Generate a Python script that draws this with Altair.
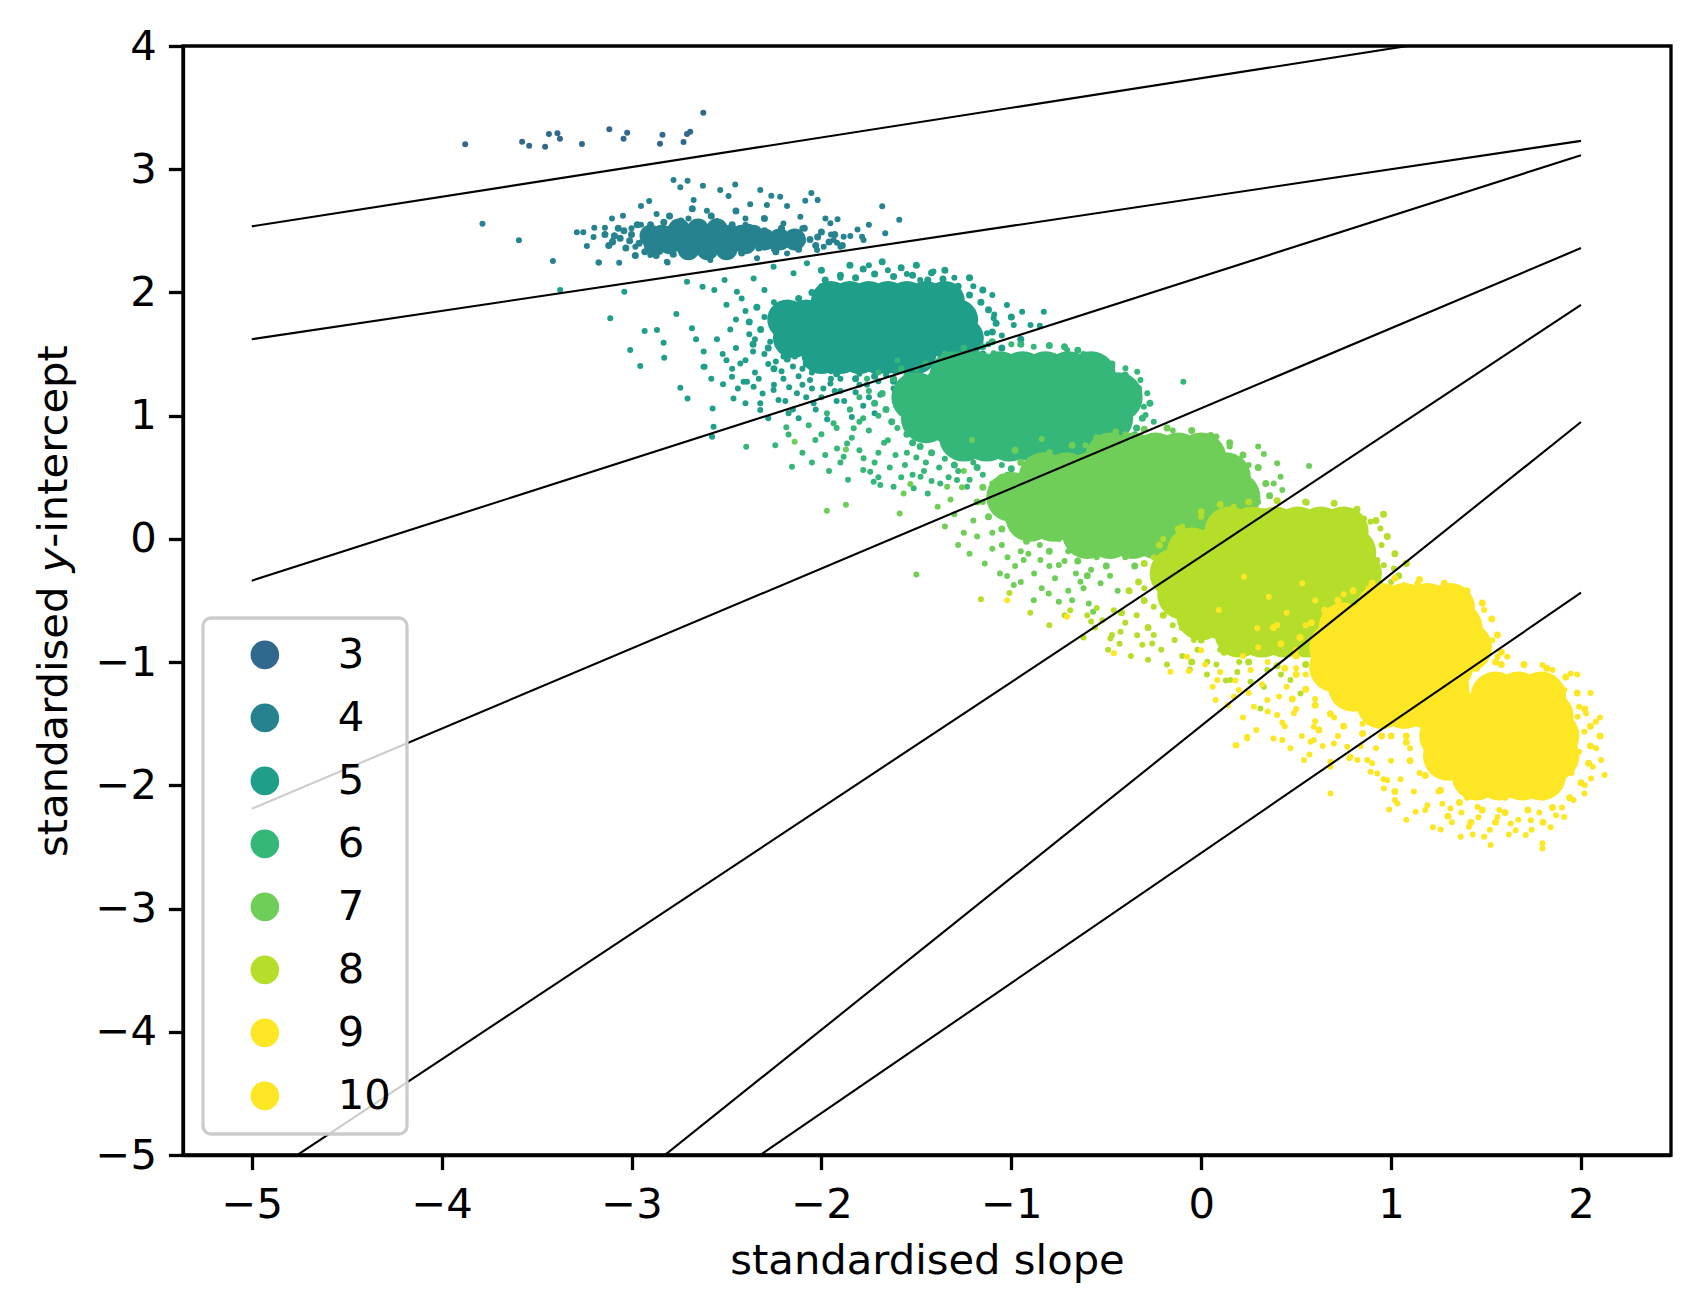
import altair as alt
import pandas as pd

FONT = "DejaVu Sans"

labels = ["3", "4", "5", "6", "7", "8", "9", "10"]
colors = ["#31688e", "#26828e", "#1f9e89", "#35b779", "#6ece58", "#b5de2b", "#fde725", "#fde725"]

x_ticks = [-5, -4, -3, -2, -1, 0, 1, 2]
y_ticks = [-5, -4, -3, -2, -1, 0, 1, 2, 3, 4]
x_domain = [-5.362, 2.474]
y_domain = [-5, 4]

# straight lines (x from -5 to 2)
line_x0 = [-5, -5, -5, -5, -5, -5, -5]
line_x1 = [2, 2, 2, 2, 2, 2, 2]
line_y0 = [2.536, 1.62, -0.339, -2.19, -5.245, -7.683, -7.827]
line_y1 = [4.22, 3.23, 3.114, 2.36, 1.90, 0.949, -0.437]

# ---- points: dense cores (rows of y with x positions),
# ---- fringe points round each core, and sparse outlying points ----
dots_3 = [(-3.876, 3.202), (-3.576, 3.223), (-3.539, 3.191), (-3.455, 3.183), (-3.435, 3.286),
          (-3.390, 3.291), (-3.377, 3.248), (-3.261, 3.205), (-3.117, 3.324), (-3.042, 3.248),
          (-3.023, 3.296), (-2.850, 3.207), (-2.837, 3.280), (-2.726, 3.221), (-2.708, 3.286),
          (-2.691, 3.305), (-2.622, 3.459)]

core_4 = [(2.46, [-2.90, -2.84, -2.78, -2.72, -2.66, -2.60, -2.54, -2.48, -2.42, -2.36]),
          (2.40, [-2.88, -2.80, -2.72, -2.64, -2.56, -2.48, -2.40]),
          (2.43, [-2.30, -2.22, -2.14]),
          (2.51, [-2.75, -2.65, -2.55]),
          (2.35, [-2.70, -2.60, -2.50])]
fringe_4 = [(-3.14, 2.47), (-3.10, 2.41), (-3.07, 2.52), (-3.03, 2.36), (-3.00, 2.47), (-2.97, 2.55),
            (-2.96, 2.40), (-2.93, 2.33), (-2.90, 2.55), (-2.87, 2.30), (-2.83, 2.57), (-2.78, 2.31),
            (-2.74, 2.58), (-2.69, 2.30), (-2.65, 2.56), (-2.60, 2.30), (-2.56, 2.57), (-2.51, 2.31),
            (-2.47, 2.55), (-2.42, 2.32), (-2.38, 2.53), (-2.33, 2.36), (-2.30, 2.50), (-2.27, 2.44),
            (-2.24, 2.33), (-2.21, 2.52), (-2.18, 2.40), (-2.15, 2.47), (-2.12, 2.35), (-2.09, 2.52),
            (-2.06, 2.43), (-2.03, 2.38), (-2.00, 2.49), (-1.96, 2.41), (-1.93, 2.47), (-1.89, 2.38),
            (-2.33, 2.43), (-2.26, 2.38), (-2.20, 2.46), (-2.10, 2.42), (-2.02, 2.45), (-3.06, 2.44),
            (-3.12, 2.38), (-2.98, 2.30), (-2.58, 2.62), (-2.30, 2.60), (-2.80, 2.62), (-2.45, 2.66),
            (-2.68, 2.68), (-3.04, 2.50), (-3.09, 2.46), (-3.01, 2.42)]
dots_4 = [(-3.785, 2.558), (-3.593, 2.423), (-3.414, 2.255), (-3.288, 2.488), (-3.254, 2.488),
          (-3.235, 2.377), (-3.196, 2.525), (-3.172, 2.244), (-3.140, 2.525), (-3.103, 2.601),
          (-3.065, 2.241), (-3.045, 2.623), (-2.950, 2.701), (-2.907, 2.742), (-2.868, 2.636),
          (-2.810, 2.244), (-2.779, 2.912), (-2.705, 2.907), (-2.743, 2.853), (-2.673, 2.750),
          (-2.624, 2.866), (-2.603, 2.663), (-2.533, 2.831), (-2.454, 2.877), (-2.489, 2.782),
          (-2.375, 2.715), (-2.322, 2.831), (-2.264, 2.785), (-2.287, 2.709), (-2.217, 2.777),
          (-2.181, 2.701), (-2.085, 2.744), (-2.053, 2.807), (-2.020, 2.750), (-2.111, 2.614),
          (-1.979, 2.601), (-1.915, 2.593), (-1.953, 2.561), (-1.883, 2.452), (-1.918, 2.403),
          (-1.988, 2.371), (-2.023, 2.344), (-2.181, 2.317), (-2.339, 2.277), (-2.585, 2.263),
          (-2.708, 2.290), (-2.901, 2.304), (-2.980, 2.371), (-1.664, 2.480), (-1.786, 2.452),
          (-1.778, 2.425), (-1.848, 2.458), (-1.936, 2.425), (-2.814, 2.250), (-3.174, 2.244),
          (-1.680, 2.700), (-1.590, 2.590), (-1.810, 2.510), (-1.750, 2.550), (-2.550, 2.580),
          (-2.400, 2.600), (-2.700, 2.600), (-2.200, 2.560), (-3.000, 2.520), (-3.100, 2.420),
          (-3.200, 2.450), (-2.950, 2.550), (-2.850, 2.330), (-2.600, 2.320), (-2.400, 2.550),
          (-2.250, 2.350), (-2.100, 2.520), (-1.950, 2.470), (-1.900, 2.370)]

core_5 = [(1.93, [-1.95, -1.85, -1.75, -1.65, -1.55, -1.45, -1.35]),
          (1.78, [-2.18, -2.08, -1.98, -1.88, -1.78, -1.68, -1.58, -1.48, -1.38, -1.28]),
          (1.63, [-2.15, -2.05, -1.95, -1.85, -1.75, -1.65, -1.55, -1.45, -1.35, -1.25]),
          (1.50, [-2.00, -1.90, -1.80, -1.70, -1.60, -1.50])]
fringe_5 = [(-2.05, 2.00), (-1.98, 2.10), (-1.90, 2.14), (-1.82, 2.12), (-1.72, 2.15), (-1.62, 2.13),
            (-1.52, 2.14), (-1.44, 2.10), (-1.36, 2.11), (-1.28, 2.05), (-1.22, 1.98), (-1.16, 1.92),
            (-2.12, 1.95), (-2.20, 1.90), (-1.12, 1.86), (-1.08, 1.75), (-1.10, 1.68), (-1.05, 1.55),
            (-1.15, 1.50), (-1.00, 1.80), (-0.95, 1.62), (-1.25, 1.45), (-1.32, 1.36), (-1.42, 1.32),
            (-1.55, 1.30), (-1.62, 1.28), (-1.72, 1.32), (-1.82, 1.30), (-1.92, 1.34), (-2.08, 1.42),
            (-2.18, 1.46), (-2.25, 1.38), (-2.32, 1.70), (-2.34, 1.88), (-2.38, 1.76), (-2.28, 1.55),
            (-2.36, 1.58), (-2.00, 2.18), (-1.85, 2.22), (-1.68, 2.25), (-1.50, 2.22), (-1.35, 2.18),
            (-1.22, 2.12), (-1.15, 2.02), (-1.78, 2.19), (-1.58, 2.20), (-1.42, 2.16), (-1.93, 2.05),
            (-1.30, 1.98)]
tail_5 = [(-2.52, 1.50), (-2.47, 1.38), (-2.44, 1.22), (-2.40, 1.10), (-2.36, 1.52), (-2.33, 1.30),
          (-2.31, 1.18), (-2.28, 0.98), (-2.27, 1.60), (-2.24, 1.44), (-2.21, 1.36), (-2.19, 1.12),
          (-2.17, 1.23), (-2.14, 1.48), (-2.12, 0.98), (-2.10, 1.38), (-2.08, 1.15), (-2.06, 1.29),
          (-2.03, 1.05), (-2.01, 1.44), (-1.99, 1.22), (-1.97, 0.97), (-1.95, 1.36), (-1.93, 1.20),
          (-1.90, 1.30), (-1.88, 1.12), (-1.86, 1.42), (-1.84, 0.99), (-1.82, 1.19), (-1.80, 1.34),
          (-1.78, 1.08), (-1.76, 1.25), (-1.74, 1.40), (-1.72, 1.02), (-1.69, 1.17), (-1.66, 1.33),
          (-1.62, 1.22), (-1.58, 1.38), (-1.55, 1.12), (-1.52, 1.28), (-2.58, 1.30), (-2.62, 1.52),
          (-2.66, 1.62), (-2.38, 1.66), (-2.45, 1.78), (-2.50, 1.90)]
dots_5 = [(-3.376, 2.020), (-3.112, 1.790), (-3.038, 2.006), (-3.007, 1.532), (-2.954, 1.403),
          (-2.931, 1.687), (-2.866, 1.695), (-2.831, 1.592), (-2.828, 1.470), (-2.764, 1.825),
          (-2.743, 1.227), (-2.705, 1.140), (-2.682, 1.709), (-2.615, 1.397), (-2.573, 1.059),
          (-2.518, 1.254), (-2.471, 1.316), (-2.708, 2.087), (-2.626, 2.046), (-2.564, 2.020),
          (-2.510, 2.101), (-2.445, 2.006), (-2.357, 2.114), (-2.252, 2.209), (-2.147, 2.155),
          (-2.076, 2.236), (-2.427, 1.424), (-2.410, 1.275), (-2.357, 1.235), (-2.322, 1.100),
          (-2.252, 1.208), (-2.226, 1.127), (-2.129, 1.181), (-2.041, 1.100), (-1.953, 1.262),
          (-2.621, 1.397), (-2.568, 0.910), (-2.576, 0.829), (-2.463, 1.140), (-2.392, 1.275),
          (-2.322, 1.045), (-2.173, 1.019), (-1.023, 1.898), (-0.943, 1.843), (-0.829, 1.843),
          (-0.899, 1.735), (-0.987, 1.735), (-1.093, 1.790), (-1.128, 1.668), (-0.850, 1.730),
          (-1.090, 1.820), (-1.750, 2.220), (-1.410, 2.170), (-1.550, 2.150), (-1.300, 2.120),
          (-1.200, 2.050), (-1.900, 2.120), (-2.000, 2.050), (-1.650, 2.180), (-1.480, 2.100),
          (-1.100, 1.980), (-2.300, 1.500), (-2.350, 1.620), (-2.300, 1.800), (-2.250, 1.920),
          (-2.150, 1.400), (-2.050, 1.350), (-1.950, 1.300), (-1.850, 1.380), (-1.650, 1.360),
          (-1.500, 1.380), (-1.350, 1.420), (-1.200, 1.500), (-1.120, 1.580), (-1.050, 1.650),
          (-2.200, 1.300), (-2.100, 1.250), (-1.900, 1.200), (-2.000, 1.150), (-1.800, 1.250),
          (-2.450, 1.550), (-2.400, 1.450), (-2.350, 1.350), (-2.280, 1.420), (-2.200, 1.480),
          (-2.120, 1.320), (-2.050, 1.220), (-1.980, 1.400), (-1.920, 1.120), (-1.850, 1.050),
          (-1.750, 1.150), (-1.700, 1.280), (-2.250, 1.250), (-2.150, 1.050), (-2.500, 1.450),
          (-2.550, 1.620), (-2.480, 1.700), (-2.400, 1.850), (-2.420, 1.950), (-2.300, 2.020)]

core_6 = [(1.32, [-1.30, -1.18, -1.06, -0.94, -0.82, -0.70, -0.58]),
          (1.15, [-1.50, -1.38, -1.26, -1.14, -1.02, -0.90, -0.78, -0.66, -0.54, -0.44]),
          (0.98, [-1.45, -1.33, -1.21, -1.09, -0.97, -0.85, -0.73, -0.61, -0.49]),
          (0.83, [-1.25, -1.13, -1.01, -0.89, -0.77, -0.65])]
fringe_6 = [(-1.35, 1.50), (-1.25, 1.55), (-1.15, 1.56), (-0.95, 1.58), (-0.80, 1.57), (-0.65, 1.53),
            (-0.55, 1.47), (-0.47, 1.42), (-0.40, 1.33), (-0.33, 1.22), (-0.27, 1.10), (-0.31, 0.98),
            (-0.34, 0.90), (-0.42, 0.82), (-0.48, 0.72), (-1.45, 1.42), (-1.55, 1.33), (-1.62, 1.30),
            (-1.68, 1.18), (-1.66, 1.05), (-1.63, 0.95), (-1.55, 0.85), (-1.48, 0.75), (-1.42, 0.70),
            (-1.30, 0.60), (-1.18, 0.58), (-1.00, 0.57), (-0.85, 0.58), (-0.70, 0.60), (-0.58, 0.65),
            (-1.10, 1.60), (-0.72, 1.56), (-1.72, 1.10), (-1.58, 1.38), (-1.52, 0.78)]
tail_6 = [(-2.10, 0.70), (-2.05, 0.62), (-2.00, 0.85), (-1.96, 0.55), (-1.92, 0.90), (-1.90, 0.62),
          (-1.86, 0.48), (-1.84, 0.82), (-1.80, 0.72), (-1.78, 0.56), (-1.75, 0.88), (-1.72, 0.62),
          (-1.70, 0.50), (-1.67, 0.78), (-1.64, 0.58), (-1.61, 0.68), (-1.58, 0.50), (-1.56, 0.60),
          (-1.52, 0.52), (-1.50, 0.66), (-1.46, 0.55), (-1.42, 0.47), (-1.38, 0.58), (-1.33, 0.50),
          (-1.28, 0.55), (-1.22, 0.48), (-1.15, 0.52), (-1.08, 0.46), (-1.02, 0.52), (-0.95, 0.50),
          (-1.85, 1.05), (-1.80, 1.15), (-1.78, 0.98), (-1.76, 1.30)]
dots_6 = [(-2.185, 0.905), (-2.173, 0.848), (-2.243, 0.760), (-2.396, 0.748), (-2.067, 0.922),
          (-2.032, 0.802), (-1.980, 0.680), (-1.918, 0.733), (-1.865, 0.775), (-1.883, 0.667),
          (-1.778, 0.654), (-1.725, 0.463), (-1.690, 0.437), (-1.743, 0.545), (-1.620, 0.423),
          (-1.514, 0.410), (-1.440, 0.369), (-1.478, 0.504), (-1.374, 0.450), (-1.286, 0.477),
          (-1.233, 0.423), (-1.971, 1.019), (-1.936, 0.938), (-1.830, 0.897), (-2.155, 0.585),
          (-0.337, 1.356), (-0.320, 1.289), (-0.284, 1.181), (-0.355, 1.248), (-0.399, 1.384),
          (-0.302, 1.072), (-0.293, 1.005), (-0.094, 1.275), (-0.250, 0.950), (-0.350, 0.850),
          (-0.706, 1.532), (-0.882, 1.559), (-0.530, 1.451), (-0.469, 1.397), (-1.093, 1.506),
          (-1.200, 1.480), (-1.350, 1.450), (-1.500, 1.380), (-0.620, 1.500), (-1.000, 1.580),
          (-1.600, 0.900), (-1.650, 0.800), (-1.550, 0.700), (-1.450, 0.620), (-1.350, 0.650),
          (-1.200, 0.620), (-1.050, 0.600), (-0.900, 0.620), (-0.750, 0.650), (-0.600, 0.700),
          (-0.500, 0.750), (-1.700, 1.000), (-1.750, 1.200), (-1.700, 1.350), (-1.600, 1.450),
          (-1.800, 0.950), (-1.700, 0.700)]

core_7 = [(0.66, [-0.48, -0.36, -0.24, -0.12, 0.00]),
          (0.50, [-0.83, -0.71, -0.59, -0.47, -0.35, -0.23, -0.11, 0.01, 0.13]),
          (0.34, [-1.00, -0.88, -0.76, -0.64, -0.52, -0.40, -0.28, -0.16, -0.04, 0.08, 0.18]),
          (0.18, [-0.90, -0.78, -0.66, -0.54, -0.42, -0.30, -0.18, -0.06, 0.06]),
          (0.04, [-0.60, -0.48, -0.36, -0.24, -0.12])]
fringe_7 = [(-0.55, 0.82), (-0.45, 0.87), (-0.30, 0.89), (-0.18, 0.90), (-0.05, 0.88), (0.05, 0.84),
            (0.15, 0.78), (0.22, 0.68), (0.30, 0.58), (0.34, 0.45), (0.36, 0.35), (0.33, 0.22),
            (0.25, 0.12), (0.15, 0.02), (0.05, -0.08), (-0.05, -0.15), (-0.20, -0.20), (-0.35, -0.22),
            (-0.50, -0.22), (-0.65, -0.18), (-0.80, -0.10), (-0.92, -0.02), (-1.05, 0.08), (-1.12, 0.18),
            (-1.18, 0.30), (-1.15, 0.42), (-1.05, 0.50), (-0.95, 0.62), (-0.80, 0.70), (-0.68, 0.76),
            (-0.60, -0.30), (-0.25, -0.28), (-0.98, 0.72)]
tail_7 = [(-1.28, -0.05), (-1.22, -0.12), (-1.18, 0.02), (-1.14, -0.20), (-1.10, -0.08), (-1.06, -0.28),
          (-1.02, -0.15), (-0.98, -0.22), (-0.95, -0.35), (-0.91, -0.12), (-0.88, -0.28), (-0.84, -0.40),
          (-0.80, -0.22), (-0.77, -0.32), (-0.72, -0.18), (-0.70, -0.42), (-0.66, -0.28), (-0.62, -0.40),
          (-0.58, -0.25), (-0.53, -0.36), (-0.48, -0.30), (-0.44, -0.42), (-1.35, 0.10), (-1.32, 0.32),
          (-1.26, 0.42)]
dots_7 = [(-2.141, 0.789), (-1.971, 0.228), (-1.871, 0.277), (-1.871, 0.726), (-1.588, 0.206),
          (-1.567, 0.369), (-1.532, 0.445), (-1.388, 0.261), (-1.338, 0.423), (-1.207, 0.802),
          (-1.500, -0.290), (-1.022, -0.302), (-0.987, -0.375), (-0.882, -0.497), (-0.803, -0.443),
          (-0.750, -0.510), (-0.680, -0.497), (-0.592, -0.524), (-0.636, -0.348), (-0.750, -0.212),
          (-0.847, -0.172), (-0.935, -0.172), (-0.569, -0.592), (0.400, 0.613), (0.418, 0.504),
          (0.427, 0.396), (0.568, 0.591), (0.555, 0.296), (0.382, 0.450), (0.330, 0.688),
          (0.300, 0.750), (0.250, 0.600), (0.300, 0.300), (-0.150, 0.880), (0.080, 0.830),
          (-0.610, 0.760), (-0.840, 0.810), (-0.400, 0.850), (0.150, 0.750), (-1.150, 0.300),
          (-1.200, 0.150), (-1.100, 0.050), (-1.050, -0.050), (-0.950, -0.100), (-0.850, -0.050),
          (-0.700, -0.100), (-0.550, -0.150), (-0.400, -0.150), (-0.250, -0.120), (-1.250, 0.050),
          (-1.300, 0.200), (-0.900, 0.100), (-0.750, 0.000), (-1.100, 0.450), (-1.250, 0.550)]

core_8 = [(0.06, [0.15, 0.27, 0.39, 0.51, 0.63, 0.75]),
          (-0.11, [-0.05, 0.07, 0.19, 0.31, 0.43, 0.55, 0.67, 0.79]),
          (-0.28, [-0.14, -0.02, 0.10, 0.22, 0.34, 0.46, 0.58, 0.70, 0.82]),
          (-0.45, [-0.10, 0.02, 0.14, 0.26, 0.38, 0.50, 0.62, 0.74, 0.84]),
          (-0.62, [0.00, 0.12, 0.24, 0.36, 0.48, 0.60, 0.72]),
          (-0.76, [0.20, 0.32, 0.44, 0.56])]
fringe_8 = [(0.00, 0.22), (0.10, 0.28), (0.25, 0.30), (0.40, 0.31), (0.55, 0.30), (0.70, 0.29),
            (0.82, 0.24), (0.92, 0.15), (0.98, 0.02), (1.02, -0.12), (1.04, -0.30), (1.00, -0.48),
            (0.95, -0.62), (0.88, -0.75), (0.78, -0.85), (0.68, -0.95), (0.55, -1.02), (0.40, -1.03),
            (0.25, -1.00), (0.12, -0.92), (0.00, -0.82), (-0.10, -0.72), (-0.20, -0.62), (-0.30, -0.50),
            (-0.33, -0.35), (-0.30, -0.20), (-0.22, -0.05), (-0.12, 0.08), (-0.38, -0.42), (-0.28, -0.72),
            (-0.42, -0.60), (-0.05, -1.00), (1.08, -0.20), (0.96, 0.20)]
tail_8 = [(-0.60, -0.62), (-0.56, -0.72), (-0.52, -0.66), (-0.49, -0.90), (-0.46, -0.58), (-0.43, -0.85),
          (-0.40, -0.68), (-0.37, -0.95), (-0.34, -0.62), (-0.31, -0.86), (-0.28, -0.98), (-0.25, -0.78),
          (-0.21, -0.90), (-0.18, -1.02), (-0.14, -0.82), (-0.10, -0.95), (-0.06, -1.06), (-0.02, -0.90),
          (0.03, -1.10), (0.08, -1.02), (0.13, -1.15), (0.19, -1.08), (0.26, -1.16), (0.33, -1.20),
          (0.42, -1.10)]
dots_8 = [(-0.478, -0.808), (-0.425, -0.754), (-0.337, -0.781), (-0.258, -0.848), (-0.550, -0.560),
          (-0.580, -0.670), (-0.720, -0.620), (-0.470, -0.780), (-0.690, -0.580), (-1.160, -0.490),
          (-1.010, -0.440), (-0.900, -0.600), (-0.800, -0.700), (-0.620, -0.800), (0.944, 0.085),
          (0.892, 0.139), (0.857, 0.166), (0.927, -0.172), (0.962, -0.213), (1.015, -0.240),
          (0.804, 0.193), (0.699, 0.220), (0.611, 0.234), (0.523, 0.234), (0.950, -0.050),
          (1.000, -0.350), (0.172, 0.261), (0.084, 0.207), (0.000, 0.180), (-0.100, 0.100),
          (-0.200, 0.000), (-0.250, -0.150), (0.348, -1.065), (0.470, -1.146), (0.523, -1.254),
          (0.312, -1.376), (0.154, -1.146), (0.032, -0.997), (-0.039, -0.821), (-0.150, -0.700),
          (-0.250, -0.550), (-0.300, -0.400), (0.700, -0.950), (0.800, -0.850), (0.600, -1.000),
          (0.200, -1.000), (0.100, -0.900)]

core_9 = [(-0.56, [0.95, 1.07, 1.19, 1.31]),
          (-0.72, [0.75, 0.87, 0.99, 1.11, 1.23, 1.35]),
          (-0.88, [0.70, 0.82, 0.94, 1.06, 1.18, 1.30, 1.40]),
          (-1.04, [0.70, 0.82, 0.94, 1.06, 1.18, 1.30]),
          (-1.20, [0.80, 0.92, 1.04, 1.16, 1.28]),
          (-1.34, [0.95, 1.07, 1.19])]
fringe_9 = [(0.72, -0.50), (0.80, -0.42), (0.90, -0.36), (1.02, -0.32), (1.15, -0.33), (1.28, -0.36),
            (1.40, -0.42), (1.48, -0.52), (1.53, -0.65), (1.56, -0.78), (1.58, -0.92), (1.55, -1.00),
            (0.65, -0.58), (0.58, -0.68), (0.52, -0.80), (0.50, -0.95), (0.50, -1.10), (0.55, -1.22),
            (0.60, -1.35), (0.68, -1.42), (0.75, -1.52), (0.85, -1.58), (0.95, -1.60), (1.08, -1.60),
            (0.42, -0.85), (0.44, -1.05), (0.48, -1.30), (0.62, -1.55), (0.38, -0.72)]
tail_9 = [(0.02, -1.02), (0.06, -1.20), (0.10, -1.08), (0.14, -1.35), (0.18, -1.15), (0.22, -1.45),
          (0.25, -1.25), (0.29, -1.55), (0.32, -1.18), (0.35, -1.40), (0.38, -1.62), (0.41, -1.28),
          (0.44, -1.52), (0.47, -1.70), (0.50, -1.38), (0.53, -1.60), (0.57, -1.75), (0.60, -1.48),
          (0.64, -1.68), (0.68, -1.85), (0.72, -1.60), (0.78, -1.78), (0.84, -1.68), (0.90, -1.82),
          (0.30, -0.88), (0.22, -0.95)]
dots_9 = [(-1.022, -0.497), (-0.706, -0.632), (-0.460, -0.929), (-0.162, -1.079), (-0.065, -1.073),
          (0.076, -1.308), (0.186, -1.674), (0.242, -1.606), (0.541, -1.795), (0.427, -1.633),
          (0.400, -1.430), (0.593, -1.633), (0.699, -1.660), (0.787, -1.769), (0.892, -1.890),
          (0.980, -1.958), (-0.074, -0.956), (0.000, -0.903), (0.084, -1.146), (0.172, -1.281),
          (0.277, -1.362), (0.225, -0.307), (0.356, -0.470), (0.532, -0.361), (0.400, -0.699),
          (0.295, -0.726), (0.093, -0.578), (1.068, -0.375), (1.138, -0.361), (1.226, -0.402),
          (1.349, -0.429), (1.384, -0.497), (1.481, -0.524), (1.490, -0.578), (1.455, -0.700),
          (1.533, -0.822), (1.490, -0.889), (1.455, -0.929), (0.427, -1.490), (0.242, -1.620),
          (0.181, -1.674), (0.681, -2.066), (0.681, -1.809), (0.576, -1.647), (0.769, -1.687),
          (0.822, -1.795), (0.488, -1.414), (0.593, -1.525), (0.198, -1.227), (0.260, -1.065),
          (0.348, -1.308), (0.600, -0.500), (0.750, -0.450), (0.880, -0.400), (0.550, -0.700),
          (0.500, -0.900), (0.550, -1.100), (0.600, -1.300), (0.700, -1.450), (0.850, -1.500),
          (1.000, -1.500), (0.450, -1.200), (0.350, -1.000), (0.450, -0.600), (0.500, -1.050)]

core_10 = [(-1.28, [1.55, 1.67, 1.79]),
           (-1.44, [1.35, 1.47, 1.59, 1.71, 1.83]),
           (-1.60, [1.28, 1.40, 1.52, 1.64, 1.76, 1.86]),
           (-1.76, [1.30, 1.42, 1.54, 1.66, 1.78, 1.86]),
           (-1.92, [1.45, 1.57, 1.69, 1.79])]
fringe_10 = [(1.45, -1.05), (1.58, -1.02), (1.70, -1.02), (1.82, -1.05), (1.92, -1.12), (1.98, -1.25),
             (2.02, -1.38), (2.05, -1.52), (2.05, -1.68), (2.04, -1.82), (2.00, -1.98), (1.94, -2.10),
             (1.85, -2.18), (1.72, -2.20), (1.60, -2.22), (1.48, -2.20), (1.36, -2.14), (1.26, -2.04),
             (1.18, -1.92), (1.10, -1.80), (1.08, -1.65), (1.10, -1.50), (1.15, -1.36), (1.25, -1.25),
             (1.35, -1.15), (1.30, -2.25), (1.55, -2.30), (1.80, -2.30), (1.02, -2.05), (1.00, -1.60),
             (2.10, -1.60), (1.42, -2.30)]
tail_10 = [(1.02, -2.12), (1.08, -2.28), (1.12, -2.05), (1.18, -2.20), (1.22, -2.34), (1.27, -2.15),
           (1.32, -2.30), (1.37, -2.22), (1.43, -2.40), (1.46, -2.26), (1.52, -2.36), (1.57, -2.20),
           (1.62, -2.40), (1.67, -2.28), (1.74, -2.36), (1.78, -2.22), (1.84, -2.34), (1.90, -2.18),
           (1.96, -2.12), (2.02, -2.00), (2.08, -1.70), (2.10, -1.45), (2.05, -1.25), (1.98, -1.10),
           (0.96, -1.95), (0.92, -1.70)]
dots_10 = [(1.946, -1.092), (1.990, -1.363), (2.078, -1.484), (2.018, -1.566), (2.106, -1.795),
           (2.124, -1.917), (2.062, -1.850), (2.053, -1.944), (2.018, -2.066), (1.990, -1.728),
           (1.850, -1.065), (1.797, -1.024), (1.709, -1.120), (1.612, -0.957), (1.560, -0.957),
           (1.797, -2.512), (1.797, -2.471), (1.524, -2.485), (1.366, -2.418), (1.261, -2.358),
           (1.410, -2.337), (1.490, -2.418), (1.630, -2.309), (1.709, -2.404), (1.736, -2.283),
           (1.868, -2.242), (1.912, -2.256), (1.129, -2.215), (0.990, -2.196), (1.033, -2.147),
           (1.191, -2.161), (0.962, -2.025), (0.927, -1.904), (0.874, -1.795), (1.313, -2.188),
           (1.455, -2.175), (1.560, -2.256), (1.656, -2.364), (1.912, -1.227), (1.983, -1.444),
           (2.027, -1.417), (1.200, -1.300), (1.150, -1.500), (1.100, -1.700), (1.150, -1.900),
           (1.250, -2.050), (1.400, -2.100), (1.600, -2.100), (1.800, -2.100), (1.950, -1.900),
           (1.950, -1.600), (1.900, -1.350), (1.400, -1.250), (1.300, -1.150), (1.000, -1.800),
           (1.050, -1.950)]

# ---- build tables ----
clusters = [("3", None, [], [], [], dots_3),
            ("4", "band", core_4, fringe_4, [], dots_4),
            ("5", "mid", core_5, fringe_5, tail_5, dots_5),
            ("6", "core", core_6, fringe_6, tail_6, dots_6),
            ("7", "core", core_7, fringe_7, tail_7, dots_7),
            ("8", "core", core_8, fringe_8, tail_8, dots_8),
            ("9", "core", core_9, fringe_9, tail_9, dots_9),
            ("10", "core", core_10, fringe_10, tail_10, dots_10)]
rows = []
for lab, kind, core, fringe, tail, dots in clusters:
    for yv, xs in core:
        for xv in xs:
            rows.append({"label": lab, "kind": kind, "x": xv, "y": yv})
    for xv, yv in fringe:
        rows.append({"label": lab, "kind": "fringe", "x": xv, "y": yv})
    for xv, yv in tail + dots:
        rows.append({"label": lab, "kind": "dot", "x": xv, "y": yv})
pts_df = pd.DataFrame(rows)

lines_df = pd.DataFrame({"x0": line_x0, "y0": line_y0, "x1": line_x1, "y1": line_y1})

xscale = alt.Scale(domain=x_domain, nice=False, zero=False)
yscale = alt.Scale(domain=y_domain, nice=False, zero=False)
xaxis = alt.Axis(values=x_ticks, format="d", title="standardised slope", grid=False)
yaxis = alt.Axis(values=y_ticks, format="d", title=None, grid=False)

size_expr = ("datum.kind === 'dot' ? 36 : (datum.kind === 'fringe' ? 49 : "
             "(datum.kind === 'band' ? 484 : (datum.kind === 'mid' ? 1600 : 2500)))")

points = alt.Chart(pts_df).transform_calculate(sz=size_expr).mark_circle(
    opacity=1, strokeWidth=0
).encode(
    x=alt.X("x:Q", scale=xscale, axis=xaxis),
    y=alt.Y("y:Q", scale=yscale, axis=yaxis),
    color=alt.Color("label:N", scale=alt.Scale(domain=labels, range=colors),
                    legend=alt.Legend(title=None, orient="none", legendX=20, legendY=572)),
    size=alt.Size("sz:Q", scale=None),
)

rules = alt.Chart(lines_df).mark_rule(color="black", strokeWidth=2.1, clip=True).encode(
    x=alt.X("x0:Q", scale=xscale, axis=xaxis),
    y=alt.Y("y0:Q", scale=yscale, axis=yaxis),
    x2="x1:Q",
    y2="y1:Q",
)

ytitle_parts = ["standardised", "y", "-intercept"]
t1 = alt.Chart(pd.DataFrame({"t": [ytitle_parts[0]]})).mark_text(
    angle=270, align="left", baseline="alphabetic", font=FONT, fontSize=41.7, color="black"
).encode(x=alt.value(-116), y=alt.value(810.9), text="t:N")
t2 = alt.Chart(pd.DataFrame({"t": [ytitle_parts[1]]})).mark_text(
    angle=270, align="left", baseline="alphabetic", font=FONT, fontSize=41.7, fontStyle="italic",
    color="black"
).encode(x=alt.value(-116), y=alt.value(526.5), text="t:N")
t3 = alt.Chart(pd.DataFrame({"t": [ytitle_parts[2]]})).mark_text(
    angle=270, align="left", baseline="alphabetic", font=FONT, fontSize=41.7, color="black"
).encode(x=alt.value(-116), y=alt.value(501.8), text="t:N")

chart = alt.layer(points, rules, t1, t2, t3).properties(
    width=1488, height=1109,
    autosize=alt.AutoSizeParams(type="none"),
    padding={"left": 175, "top": 38, "right": 22, "bottom": 152},
).configure_view(
    stroke="black", strokeWidth=3.3
).configure_axis(
    domainColor="black", domainWidth=3.3, tickColor="black", tickWidth=3.3, tickSize=14.6,
    labelFont=FONT, labelFontSize=41.7, labelColor="black", labelPadding=15,
    titleFont=FONT, titleFontSize=41.7, titleFontWeight="normal", titleColor="black", titlePadding=14,
).configure_axisY(labelPadding=12).configure_legend(
    padding=16, fillColor="rgba(255,255,255,0.8)", strokeColor="#cccccc", strokeWidth=3.3,
    cornerRadius=8, symbolSize=820, symbolType="circle", symbolStrokeWidth=0,
    labelFont=FONT, labelFontSize=41.7, labelColor="black", rowPadding=20,
    labelOffset=52, symbolOffset=25,
)

chart.save("out.html", embed_options={"renderer": "svg", "actions": False})
